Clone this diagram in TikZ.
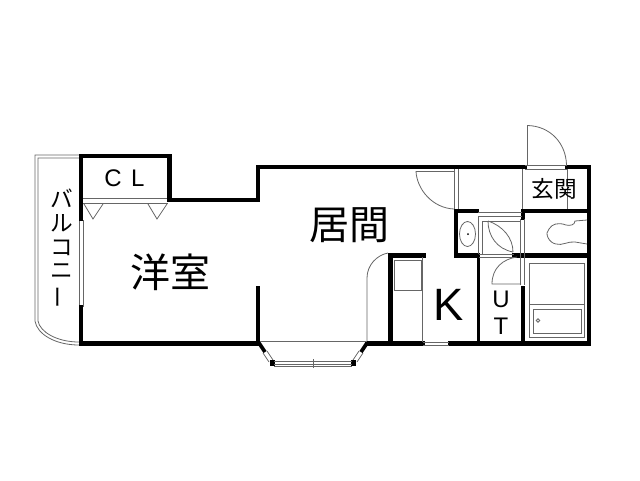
\documentclass[tikz,border=0pt]{standalone}
\usepackage{fontspec}
\setmainfont{Liberation Sans}
\newfontfamily\cjk{Noto Sans CJK JP}
\tikzset{
  wall/.style={line width=3.6pt, line cap=rect, black},
  thin wall/.style={line width=2.6pt, line cap=rect, black},
  sash/.style={line width=0.6pt, draw=black!60},
  room label/.style={font=\cjk\fontsize{30pt}{30pt}\selectfont, inner sep=0pt},
  small label/.style={font=\cjk\fontsize{17pt}{17pt}\selectfont, inner sep=0pt},
  latin label/.style={font=\fontsize{18pt}{18pt}\selectfont, inner sep=0pt}
}
\begin{document}
\begin{tikzpicture}[x=0.75pt, y=-0.75pt]
  \useasboundingbox (0,0) rectangle (640,480);
  % balcony
  \draw[sash] (79,155) -- (35,155) -- (35,321) .. controls (37,334) and (55,345) .. (79,345);
  \draw[sash] (79,158) -- (38,158) -- (38,321) .. controls (40,332) and (57,342) .. (79,342);
  \draw[sash] (83,220) -- (83,307);
  \draw[sash] (79,220) -- (79,307);
  % closet
  \draw[sash] (82,198) -- (168,198);
  \draw[sash] (82,203) -- (168,203);
  \foreach \x in {84,148}{
    \draw[sash] (\x,204) -- (\x+9,219) -- (\x+19,204);
  }
  % outer walls
  \draw[wall] (81,219) -- (81,156) -- (169.5,156) -- (169.5,200) -- (258,200) -- (258,167) -- (525,167);
  \draw[wall] (567,167) -- (589,167) -- (589,343.5) -- (450,343.5);
  \draw[wall] (81,307) -- (81,343.5) -- (258,343.5);
  \draw[wall] (258,288) -- (258,343.5);
  \draw[wall] (367,343.5) -- (423,343.5);
  \draw[sash] (423,342) -- (449,342) (423,345) -- (449,345);
  % bay window
  \draw[line width=2.8pt] (259,343) -- (265,352);
  \draw[line width=2.8pt] (367,343) -- (361,352);
  \draw[sash] (263,353) -- (269,362) (267,351) -- (273,360);
  \draw[sash] (363,353) -- (357,362) (359,351) -- (353,360);
  \fill[black] (270,360) rectangle (275,366);
  \fill[black] (351,360) rectangle (356,366);
  \draw[sash] (274,361) -- (352,361) (274,364) -- (352,364) (274,366) -- (352,366);
  \draw[sash] (313,359) -- (313,368);
  \draw[sash] (260,341) -- (367,341);
  % kitchen
  \draw[wall] (390.5,343) -- (390.5,255.5) -- (424,255.5);
  \draw[sash] (422,257) -- (422,342);
  \draw[sash] (394,260) -- (421,260) -- (421,290) -- (394,290) -- cycle;
  \draw[sash] (367,341) -- (367,278) .. controls (367,265) and (377,255) .. (388,253);
  % entry door
  \draw[sash] (527.5,165) -- (527.5,125.5) .. controls (550,126) and (566,143) .. (566.5,165);
  \draw[sash] (525,165) -- (567,165);
  \draw[sash] (525,169) -- (567,169);
  \draw[sash] (522.5,169) -- (522.5,210);
  \draw[sash] (567,169) -- (567,210);
  % door to hall
  \draw[sash] (454,171.5) -- (416,171.5) .. controls (417,189) and (432,208) .. (454,209);
  \draw[sash] (454,169) -- (454,209) (458,169) -- (458,209);
  % wet area walls
  \draw[wall] (456,211) -- (456,255.5) -- (478,255.5);
  \draw[wall] (456,211) -- (477,211);
  \draw[wall] (523,211) -- (589,211);
  \draw[wall] (514.5,255.5) -- (589,255.5);
  \draw[wall] (523,211) -- (523,218);
  \draw[thin wall] (478.5,256) -- (478.5,343);
  \draw[wall] (523,288) -- (523,343);
  \draw[sash] (478,212) -- (522,212) (478,216) -- (522,216);
  \draw[sash] (479,254) -- (514,254) (479,257) -- (514,257);
  \draw[sash] (478,216) -- (478,254);
  \draw[sash] (482,221) -- (520,221) (482,221) -- (482,254);
  \draw[sash] (520.5,219) -- (520.5,285) (524.5,219) -- (524.5,285);
  % washbasin
  \draw[sash] (467.5,234) ellipse (8 and 12.5);
  \fill[black] (468,234) circle (1);
  % bath door
  \draw[sash] (488,221) .. controls (503,226) and (513,238) .. (513,252);
  \draw[sash] (488,221) .. controls (488,236) and (497,249) .. (513,252);
  % toilet
  \draw[sash] (587,220) -- (575,221) .. controls (575,225) and (570,226) .. (566,225)
    .. controls (558,222) and (552,224) .. (549,229) .. controls (544,233) and (549,243) .. (556,244)
    .. controls (562,246) and (568,241) .. (575,242) -- (587,244);
  % UT door
  \draw[sash] (517,257) .. controls (503,259) and (492,268) .. (492,284) -- (521,284);
  % bath
  \draw[sash] (529,263) rectangle (584,337);
  \draw[sash] (529,304) -- (584,304);
  \draw[sash] (533,309) rectangle (581,333);
  \draw[sash] (538,320.5) circle (1.8);
  % labels
  \node[room label] (youshitsu) at (170,272) {洋室};
  \node[room label] (kyoma) at (349,225) {居間};
  \node[small label] (genkan) at (554,189) {玄関};
  \node[latin label] (closet) at (124.5,178) {C\hspace{7pt}L};
  \node[font=\fontsize{34pt}{34pt}\selectfont, inner sep=0pt] (kitchen) at (449,305) {K};
  \node[latin label, align=center] (utility) at (501,313) {U\\[2pt]T};
  \node[align=center, inner sep=0pt, font=\cjk\fontsize{17pt}{17.7pt}\selectfont] (balcony) at (62,249) {バ\\ル\\コ\\ニ\\\rotatebox[origin=c]{90}{ー}};
\end{tikzpicture}
\end{document}
